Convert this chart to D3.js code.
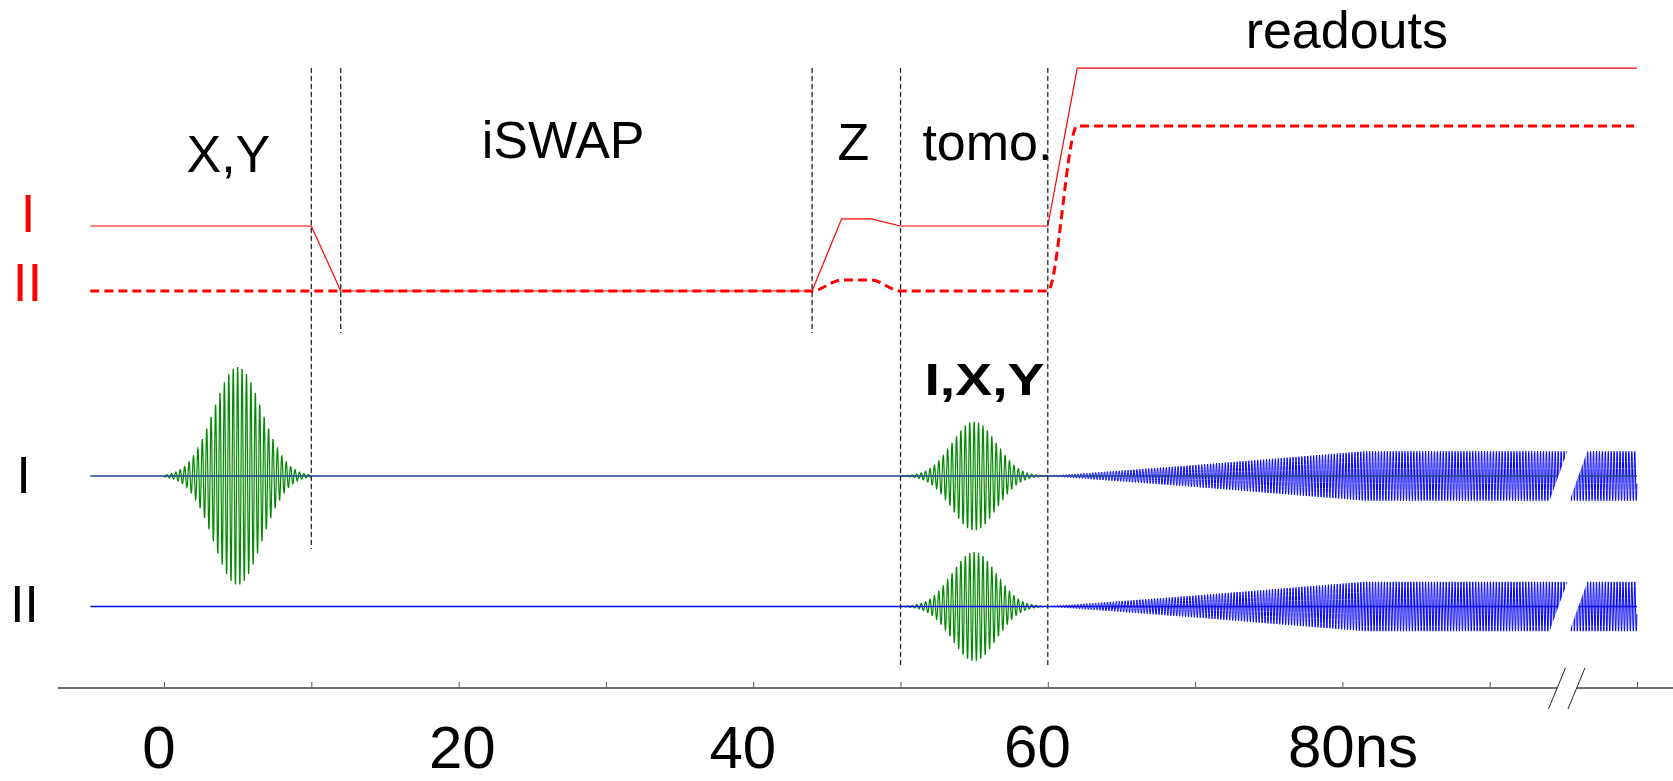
<!DOCTYPE html>
<html>
<head>
<meta charset="utf-8">
<script src="https://cdn.jsdelivr.net/npm/d3@7"></script>
<style>
  body { margin: 0; background: #fff; }
  text { font-family: "Liberation Sans", Arial, Helvetica, sans-serif; }
</style>
</head>
<body>
<svg id="chart" width="1673" height="781"></svg>
<script>
// time axis, ns
const tickValues = [0, 10, 20, 30, 40, 50, 60, 70, 80, 90, 100];
const tickLabels = ["0", "20", "40", "60", "80ns"];
const tickLabelValues = [0, 20, 40, 60, 80];

// gate boundaries (ns)
const boundaries = [10, 12, 44, 50, 60];

// flux bias per qubit, [t ns, level]
const fluxQ1 = [[-5, 1], [10, 1], [12, 0], [44, 0], [46, 1.11], [48, 1.11], [50, 1], [60, 1], [62, 3.43], [100, 3.43]];
const fluxQ2 = [[-5, 0], [44, 0], [46, 0.17], [48, 0.17], [50, 0], [60, 0], [62, 2.54], [99.8, 2.54]];

// microwave pulses
const pulseQubit = [0, 0, 1];
const pulseStart = [0, 50, 50];
const pulseEnd = [10, 60, 60];
const pulseCenter = [5, 55, 55];
const pulseSigma = [1.63, 1.5, 1.5];
const pulseAmp = [1, 0.5, 0.5];

// readout envelope, [t ns, amplitude]
const readoutEnv = [[60, 0], [70, 0.1], [81.5, 0.226], [100, 0.226]];
const readoutBreak = 94.6;

const stageLabels = ["X,Y", "iSWAP", "Z", "tomo.", "readouts"];
const qubitLabels = ["I", "II"];
const tomoLabel = "I,X,Y";

// ---- layout ----
const svg = d3.select("#chart");
const x = d3.scaleLinear().domain([0, 100]).range([164, 1637]);
const yFlux = d3.scaleLinear().domain([0, 1]).range([291, 226]);
const laneY = [476, 606.5];
const yMw = d3.scaleLinear().domain([-1, 1]).range([109, -109]);

// flux lines
const fluxLine = d3.line().x(d => x(d[0])).y(d => yFlux(d[1]));
svg.append("path").attr("d", fluxLine(fluxQ1))
  .attr("fill", "none").attr("stroke", "#ff0000").attr("stroke-width", 1.2);
svg.append("path").attr("d", fluxLine.curve(d3.curveMonotoneX)(fluxQ2))
  .attr("fill", "none").attr("stroke", "#ff0000").attr("stroke-width", 3)
  .attr("stroke-dasharray", "9,5");

// green pulses
const mwLine = q => d3.line().x(d => x(d[0])).y(d => laneY[q] + yMw(d[1]));
pulseCenter.forEach((c, i) => {
  const pts = [];
  for (let t = pulseStart[i]; t <= pulseEnd[i] + 1e-9; t += 0.01) {
    const env = pulseAmp[i] * Math.exp(-((t - c) ** 2) / (2 * pulseSigma[i] ** 2));
    pts.push([t, env * Math.cos(2 * Math.PI * (t - c) / 0.3)]);
  }
  svg.append("path").attr("d", mwLine(pulseQubit[i])(pts))
    .attr("fill", "none").attr("stroke", "#008a00").attr("stroke-width", 1.2);
});

// readout
const envScale = d3.scaleLinear().domain(readoutEnv.map(d => d[0])).range(readoutEnv.map(d => d[1]));
laneY.forEach((ly, q) => {
  const pts = [];
  for (let t = 60; t <= 100; t += 0.01) {
    pts.push([t, envScale(t) * Math.sin(2 * Math.PI * (t - 60) / 0.2)]);
  }
  svg.append("path").attr("d", mwLine(q)(pts))
    .attr("fill", "none").attr("stroke", "#0000ff").attr("stroke-width", 1);
});

// baselines
laneY.forEach((ly, q) => {
  svg.append("line")
    .attr("x1", x(-5)).attr("x2", x(100)).attr("y1", ly).attr("y2", ly)
    .attr("stroke", q === 0 ? "#1d4690" : "#0a0aee").attr("stroke-width", 1.5);
});

// break gap in readout
laneY.forEach(ly => {
  const a = -yMw(0.226) + 2;
  const xb = x(readoutBreak) + 1, w = 20, s = 0.36;
  svg.append("polygon")
    .attr("points", [[xb + s * a, ly - a], [xb + s * a + w, ly - a], [xb - s * a + w, ly + a], [xb - s * a, ly + a]].join(" "))
    .attr("fill", "#fff");
});

// gate boundaries
const boundaryBottom = [549, 333, 333, 667, 667];
svg.selectAll(".bound").data(boundaries).enter().append("line")
  .attr("x1", d => x(d)).attr("x2", d => x(d))
  .attr("y1", yFlux(3.43)).attr("y2", (d, i) => boundaryBottom[i])
  .attr("stroke", "#222").attr("stroke-width", 1.3).attr("stroke-dasharray", "5,3");

// time axis
const axisY = 688;
const axisG = svg.append("g").attr("transform", `translate(0,${axisY})`)
  .call(d3.axisTop(x).tickValues(tickValues).tickSize(6).tickFormat(""));
axisG.select(".domain").remove();
axisG.selectAll(".tick line").attr("stroke", "#555").attr("stroke-width", 1);
const xb = x(readoutBreak);
svg.append("line").attr("x1", 58).attr("x2", xb).attr("y1", axisY).attr("y2", axisY)
  .attr("stroke", "#6e6e6e").attr("stroke-width", 2);
svg.append("line").attr("x1", xb + 19.5).attr("x2", 1673).attr("y1", axisY).attr("y2", axisY)
  .attr("stroke", "#6e6e6e").attr("stroke-width", 2);
[0, 19.5].forEach(off => {
  svg.append("line")
    .attr("x1", xb + off + 8).attr("y1", axisY - 20)
    .attr("x2", xb + off - 9).attr("y2", axisY + 21)
    .attr("stroke", "#222").attr("stroke-width", 1);
});

// tick labels
const labelShift = [-0.35, 20.25, 39.3, 59.3, 76.3];
const labelBase = [768, 768, 768, 767, 767];
svg.selectAll(".tlab").data(tickLabels).enter().append("text")
  .attr("x", (d, i) => x(labelShift[i]))
  .attr("y", (d, i) => labelBase[i])
  .attr("text-anchor", (d, i) => i === 4 ? "start" : "middle")
  .attr("font-size", 60).attr("fill", "#000")
  .text(d => d);

// stage labels
const stagePos = [[4.37, 172], [27.1, 158], [46.8, 160], [55.9, 160], [80.3, 48]];
svg.selectAll(".stage").data(stageLabels).enter().append("text")
  .attr("x", (d, i) => x(stagePos[i][0]))
  .attr("y", (d, i) => stagePos[i][1])
  .attr("text-anchor", "middle").attr("font-size", 52).attr("fill", "#000")
  .text(d => d);

svg.append("text").attr("x", x(55.7)).attr("y", 395)
  .attr("text-anchor", "middle").attr("font-size", 44).attr("font-weight", "bold")
  .attr("textLength", 120).attr("lengthAdjust", "spacingAndGlyphs")
  .text(tomoLabel);

// qubit labels: red for flux, black for microwave
const fluxLabelPos = [[28, 231.5], [27.5, 300.5]];
const mwLabelPos = [[23.5, 493], [24.5, 622]];
qubitLabels.forEach((lab, i) => {
  svg.append("text").attr("x", fluxLabelPos[i][0]).attr("y", fluxLabelPos[i][1])
    .attr("text-anchor", "middle").attr("font-size", 53).attr("fill", "#ff0000").text(lab);
  svg.append("text").attr("x", mwLabelPos[i][0]).attr("y", mwLabelPos[i][1])
    .attr("text-anchor", "middle").attr("font-size", 51).attr("fill", "#000").text(lab);
});
</script>
</body>
</html>
